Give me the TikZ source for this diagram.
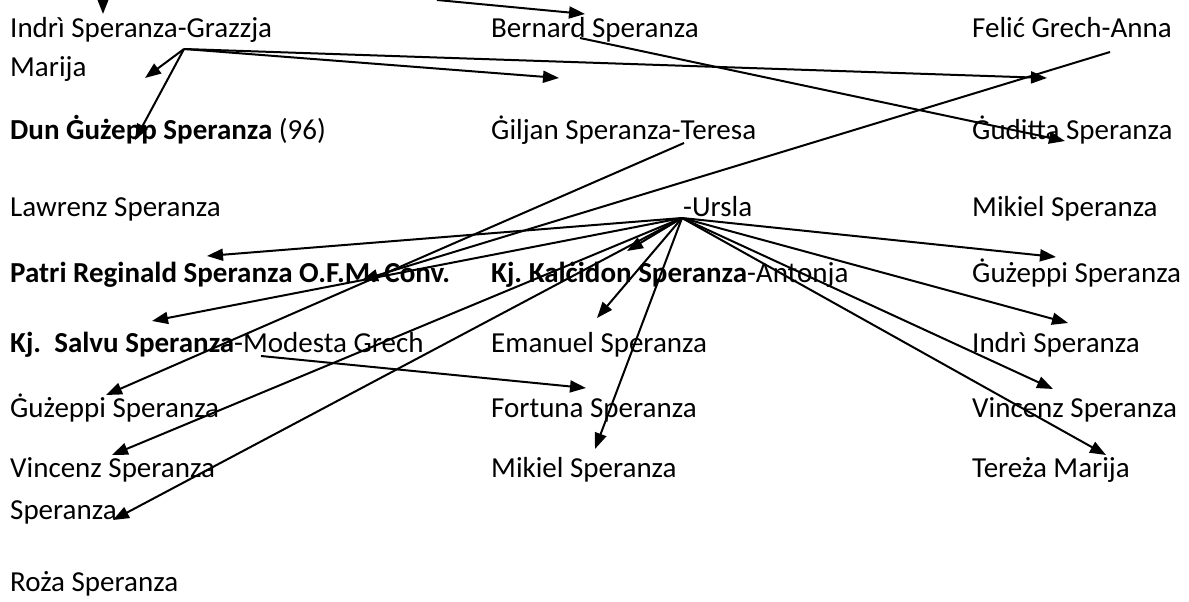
\documentclass[tikz,border=0pt]{standalone}
\usepackage{fontspec}
\setmainfont{Carlito}
\usetikzlibrary{arrows.meta}
\frenchspacing

\begin{document}
\begin{tikzpicture}[x=1pt, y=-1pt, font=\fontsize{29}{35}\selectfont,
    person/.style={anchor=base west, inner sep=0pt},
    link/.style={line width=2pt, -{Triangle[length=16pt, width=12pt]}}]
    % Frame
    \useasboundingbox (0,0) rectangle (1189,602);

    % Names, left column
    \node[person] (grazzja) at (10,38) {Indrì Speranza-Grazzja};
    \node[person] (marija) at (10,77) {Marija};
    \node[person] (dun) at (10,139) {\textbf{Dun Ġużepp Speranza} (96)};
    \node[person] (lawrenz) at (10,216) {Lawrenz Speranza};
    \node[person] (patri) at (10,282) {\textbf{Patri Reginald Speranza O.F.M. Conv.}};
    \node[person] (salvu) at (10,352) {\textbf{Kj.\ \ Salvu Speranza}-Modesta Grech};
    \node[person] (guzeppiL) at (10,417) {Ġużeppi Speranza};
    \node[person] (vincenzL) at (10,477) {Vincenz Speranza};
    \node[person] (speranza) at (10,519) {Speranza};
    \node[person] (roza) at (10,591) {Roża Speranza};

    % Names, middle column
    \node[person] (bernard) at (491,38) {Bernard Speranza};
    \node[person] (giljan) at (491,139) {Ġiljan Speranza-Teresa};
    \node[person] (ursla) at (683,216) {-Ursla};
    \node[person] (kalcidon) at (491,282) {\textbf{Kj. Kalċidon Speranza}-Antonja};
    \node[person] (emanuel) at (491,352) {Emanuel Speranza};
    \node[person] (fortuna) at (491,417) {Fortuna Speranza};
    \node[person] (mikielM) at (491,477) {Mikiel Speranza};

    % Names, right column
    \node[person] (felic) at (972,38) {Felić Grech-Anna};
    \node[person] (guditta) at (972,139) {Ġuditta Speranza};
    \node[person] (mikielR) at (972,216) {Mikiel Speranza};
    \node[person] (guzeppiR) at (972,282) {Ġużeppi Speranza};
    \node[person] (indriR) at (972,352) {Indrì Speranza};
    \node[person] (vincenzR) at (972,417) {Vincenz Speranza};
    \node[person] (tereza) at (972,477) {Tereża Marija};

    % Start points
    \coordinate (A0) at (103,0);
    \coordinate (B0) at (437,0);
    \coordinate (G) at (184,49);
    \coordinate (Bs) at (580,38);
    \coordinate (F) at (1110,52);
    \coordinate (T) at (684,143);
    \coordinate (U) at (682,218);
    \coordinate (S) at (261,356);

    % Arrow tips
    \coordinate (A1) at (103,14);
    \coordinate (B1) at (585,14);
    \coordinate (Gm) at (145,78);
    \coordinate (Gd) at (135,140);
    \coordinate (Gc) at (559,78);
    \coordinate (Gr) at (1047,78);
    \coordinate (Bt) at (1065,141);
    \coordinate (Ft) at (362,280);
    \coordinate (Tt) at (106,395);
    \coordinate (Up) at (207,256);
    \coordinate (Us) at (152,321);
    \coordinate (Uv) at (112,455);
    \coordinate (Ux) at (113,520);
    \coordinate (Uk) at (627,251);
    \coordinate (Ue) at (597,318);
    \coordinate (Um) at (595,449);
    \coordinate (Ug) at (1056,257);
    \coordinate (Ui) at (1068,323);
    \coordinate (Uw) at (1053,389);
    \coordinate (Ut) at (1106,455);
    \coordinate (St) at (586,388);

    % Arrows from above
    \draw[link] (A0) -- (A1);
    \draw[link] (B0) -- (B1);

    % Arrows from Grazzja
    \foreach \t in {Gm, Gd, Gc, Gr}
        \draw[link] (G) -- (\t);

    % Single arrows
    \draw[link] (Bs) -- (Bt);
    \draw[link] (F) -- (Ft);
    \draw[link] (T) -- (Tt);
    \draw[link] (S) -- (St);

    % Arrows from Ursla
    \foreach \t in {Up, Us, Uv, Ux, Uk, Ue, Um, Ug, Ui, Uw, Ut}
        \draw[link] (U) -- (\t);
\end{tikzpicture}
\end{document}
